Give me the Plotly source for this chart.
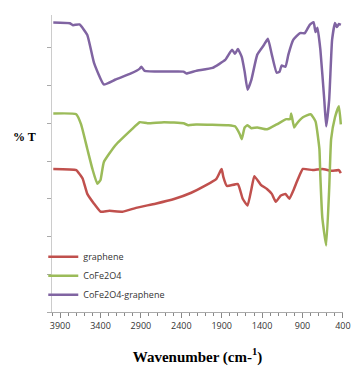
import plotly.graph_objects as go

# Wavenumbers (cm-1) and transmittance (arbitrary units)
wn_purple = [3984, 3780, 3740, 3660, 3563, 3480, 3359, 3215, 3023, 2914, 2895, 2854, 2614, 2373, 2337,
             2217, 2013, 1857, 1772, 1736, 1700, 1652, 1616, 1580, 1532, 1460, 1376, 1328, 1280,
             1220, 1183, 1159, 1111, 1075, 1015, 931, 871, 811, 763, 739, 715, 679, 631, 607,
             570, 534, 498, 474, 450, 426]
t_purple = [7.67, 7.65, 7.60, 7.62, 7.34, 6.6, 6.03, 6.16, 6.32, 6.45, 6.5, 6.39, 6.37, 6.37, 6.32,
            6.39, 6.47, 6.68, 6.95, 6.84, 6.97, 6.76, 6.37, 5.89, 6.16, 6.82, 7.08, 7.24, 6.82,
            6.34, 6.37, 6.53, 6.50, 6.82, 7.21, 7.39, 7.39, 7.61, 7.68, 7.42, 7.53, 6.95, 5.63, 4.92,
            5.63, 7.21, 7.66, 7.55, 7.63, 7.61]

wn_green = [3984, 3700, 3640, 3563, 3500, 3440, 3400, 3359, 3215, 3023, 2914, 2818, 2614, 2373, 2313,
            2217, 1817, 1736, 1676, 1652, 1616, 1580, 1532, 1460, 1340, 1220, 1100, 1052, 1040,
            1003, 979, 895, 799, 739, 691, 679, 655, 607, 570, 546, 498, 450, 426]
t_green = [5.26, 5.24, 4.97, 4.32, 3.79, 3.40, 3.50, 3.97, 4.42, 4.82, 5.03, 5.0, 5.03, 5.0, 4.95,
           4.97, 4.95, 4.92, 4.71, 4.58, 4.89, 4.95, 4.87, 4.89, 4.84, 4.97, 5.11, 5.11, 5.26,
           4.89, 4.97, 5.16, 5.24, 5.05, 4.32, 3.58, 2.5, 1.76, 3.26, 4.58, 5.16, 5.45, 4.97]

wn_red = [3984, 3700, 3650, 3620, 3563, 3480, 3400, 3359, 3290, 3120, 2960, 2720, 2480, 2277, 2110,
          1965, 1915, 1900, 1880, 1836, 1700, 1640, 1580, 1532, 1496, 1416, 1340, 1280, 1230,
          1172, 1111, 1063, 1015, 955, 895, 775, 655, 535, 450, 426]
t_red = [3.79, 3.76, 3.63, 3.53, 3.13, 2.87, 2.66, 2.66, 2.68, 2.66, 2.76, 2.87, 3.0, 3.16, 3.34,
         3.53, 3.74, 3.79, 3.58, 3.34, 3.39, 3.0, 2.82, 3.26, 3.60, 3.37, 3.26, 3.13, 2.92,
         3.08, 3.13, 3.0, 3.21, 3.53, 3.79, 3.76, 3.79, 3.74, 3.76, 3.68]

series = [
    ("graphene", wn_red, t_red, "#C0504D"),
    ("CoFe2O4", wn_green, t_green, "#9BBB59"),
    ("CoFe2O4-graphene", wn_purple, t_purple, "#8064A2"),
]

x_ticks = [3900, 3400, 2900, 2400, 1900, 1400, 900, 400]

fig = go.Figure()
for name, x, y, color in series:
    fig.add_trace(go.Scatter(x=x, y=y, name=name, mode="lines",
                             line=dict(color=color, width=2.5, shape="spline", smoothing=0.4)))

fig.update_layout(
    width=356, height=367,
    margin=dict(l=52, r=5, t=15, b=53),
    paper_bgcolor="white", plot_bgcolor="white",
    showlegend=True,
    legend=dict(x=-0.03, y=0.235, xanchor="left", yanchor="top",
                bgcolor="rgba(0,0,0,0)", traceorder="normal",
                font=dict(family="Open Sans", size=9, color="#333333"),
                itemwidth=30),
    xaxis=dict(range=[4000, 399], tickvals=x_ticks, ticks="outside", ticklen=5,
               tickcolor="#888888", showline=True, linecolor="#aaaaaa", linewidth=1,
               showgrid=False, zeroline=False, ticklabeloverflow="allow",
               minor=dict(dtick=100, ticks="outside", ticklen=3, tickcolor="#888888", showgrid=False),
               tickfont=dict(family="Open Sans", size=9, color="#333333"),
               title=dict(text="<b>Wavenumber (cm-<sup>1</sup>)</b>", standoff=20,
                          font=dict(family="Liberation Serif", size=15, color="black"))),
    yaxis=dict(range=[0, 7.87], dtick=1, tick0=0, ticks="outside", ticklen=4,
               tickcolor="#aaaaaa", showline=True, linecolor="#cccccc", linewidth=1,
               showgrid=False, zeroline=False, showticklabels=False),
)

fig.add_annotation(text="<b>% T</b>", xref="paper", yref="paper", x=-0.047, y=0.59,
                   showarrow=False, xanchor="right",
                   font=dict(family="Liberation Serif", size=12, color="black"))

fig.write_html("out.html", config={"displayModeBar": False},
               post_script="document.body.style.margin='0';")
